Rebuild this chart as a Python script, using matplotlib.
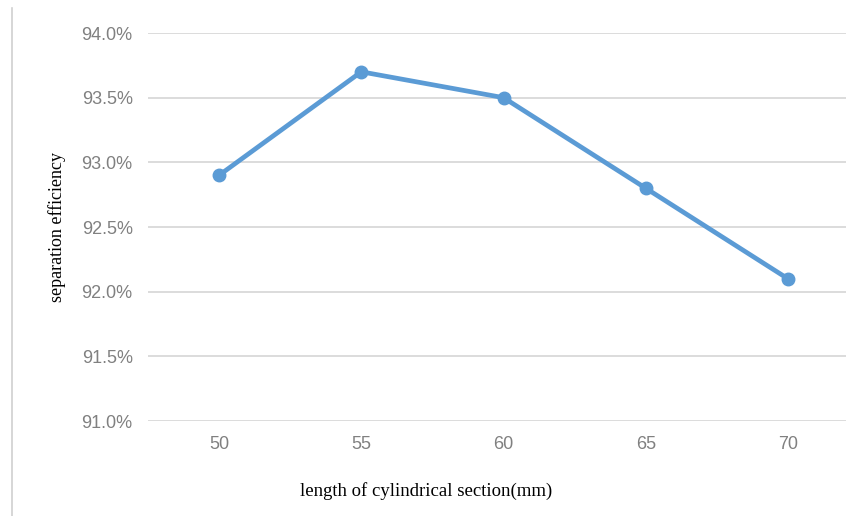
import matplotlib.pyplot as plt
from matplotlib.lines import Line2D

# data
lengths = ["50", "55", "60", "65", "70"]
efficiency = [92.9, 93.7, 93.5, 92.8, 92.1]
y_ticks = [91.0, 91.5, 92.0, 92.5, 93.0, 93.5, 94.0]

fig = plt.figure(figsize=(8.46, 5.16), dpi=100)
ax = fig.add_axes([148 / 846, 1 - 421 / 516, 711 / 846, 388 / 516])

x = range(len(lengths))
ax.plot(x, efficiency, color="#5B9BD5", linewidth=3.4, marker="o",
        markersize=9, solid_capstyle="round", zorder=3)

ax.set_xlim(-0.5, len(lengths) - 0.5)
ax.set_ylim(y_ticks[0], y_ticks[-1])
ax.set_yticks(y_ticks)
ax.set_yticklabels([f"{v:.1f}%" for v in y_ticks])
ax.set_xticks(list(x))
ax.set_xticklabels(lengths)

ax.grid(axis="y", color="#D9D9D9", linewidth=1.3)
ax.set_axisbelow(True)
for s in ax.spines.values():
    s.set_visible(False)
ax.tick_params(length=0, colors="#808080", labelsize=13)
ax.tick_params(axis="y", pad=11)
ax.tick_params(axis="x", pad=11)
for lab in ax.get_xticklabels() + ax.get_yticklabels():
    lab.set_family(["Liberation Sans", "DejaVu Sans"])

ax.set_ylabel("separation efficiency", family="Liberation Serif", fontsize=13,
              color="black")
ax.yaxis.set_label_coords((66 - 148) / 711, 0.5)
ax.set_xlabel("length of cylindrical section(mm)", family="Liberation Serif",
              fontsize=13.5, color="black")
ax.xaxis.set_label_coords((426 - 148) / 711, -(482 - 421) / 388)

# thin border line on the left of the picture
fig.add_artist(Line2D([12 / 846, 12 / 846], [0, 1 - 8 / 516],
                      transform=fig.transFigure, color="#D0D0D0", linewidth=1.2))

fig.savefig("out.png", dpi=100)
